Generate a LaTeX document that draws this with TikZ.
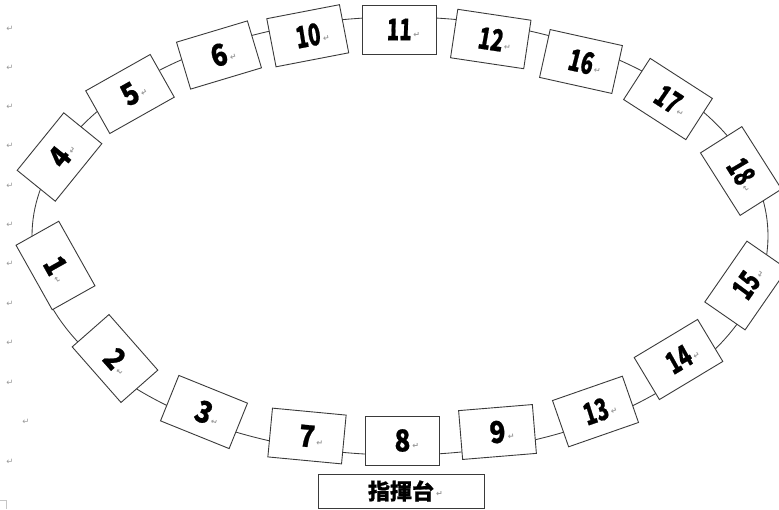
\documentclass[tikz,border=0pt]{standalone}
\usepackage{fontspec}
\newfontfamily\numfont[FakeStretch=0.87,FakeBold=0.8]{Noto Sans CJK JP}
\newfontfamily\numfontc[FakeStretch=0.68,FakeSlant=0.03,FakeBold=0.6]{Noto Sans CJK JP}
\newfontfamily\jpfont[FakeBold=0.8]{Noto Sans CJK JP}
\newfontfamily\markfont{DejaVu Sans}
\definecolor{markgray}{HTML}{9A9A9A}
\definecolor{linegray}{HTML}{3A3A3A}
\newcommand{\pmark}{\rlap{\hspace{2pt}\raisebox{2.5pt}{\markfont\fontsize{8}{8}\selectfont\color{markgray}↵}}}
\tikzset{
  seat/.style={draw=linegray, line width=0.9pt, fill=white, minimum width=74pt,
    minimum height=49pt, inner sep=0pt,
    font=\numfont\bfseries\fontsize{30}{30}\selectfont},
  seatc/.style={seat, font=\numfontc\bfseries\fontsize{30}{30}\selectfont},
  podium/.style={draw=linegray, line width=0.9pt, fill=white, minimum width=166pt,
    minimum height=34pt, inner sep=0pt,
    font=\jpfont\bfseries\fontsize{22}{22}\selectfont},
  pm/.style={text=markgray, font=\markfont\fontsize{8.5}{8.5}\selectfont, inner sep=0pt},
  ring/.style={draw=linegray, line width=0.85pt},
}
\begin{document}
\begin{tikzpicture}[x=1pt,y=-1pt]
\useasboundingbox (0,0) rectangle (779,509);
% ellipse
\draw[ring] (400,236) ellipse [x radius=368pt, y radius=219pt];
% seats
\node[seat,  rotate=-60.7] (s1)  at (55.5,265.5) {1\pmark};
\node[seat,  rotate=-48.7] (s2)  at (115,358.5)  {2\pmark};
\node[seat,  rotate=-22]   (s3)  at (204,412)    {3\pmark};
\node[seat,  rotate=51]    (s4)  at (59.5,157)   {4\pmark};
\node[seat,  rotate=29.4]  (s5)  at (130,94)     {5\pmark};
\node[seat,  rotate=16.7]  (s6)  at (219,55)     {6\pmark};
\node[seat,  rotate=-5.4]  (s7)  at (307,436)    {7\pmark};
\node[seat,  rotate=0]     (s8)  at (402.5,440.5){8\pmark};
\node[seat,  rotate=4.7]   (s9)  at (497.5,432)  {9\pmark};
\node[seatc, rotate=10.9]  (s10) at (307.75,35.75){10\pmark};
\node[seatc, rotate=0]     (s11) at (399,29.5)   {11\pmark};
\node[seatc, rotate=-8.5]  (s12) at (490.75,39)  {12\pmark};
\node[seatc, rotate=19.2]  (s13) at (595.5,411.5){13\pmark};
\node[seatc, rotate=31]    (s14) at (678.5,359.5){14\pmark};
\node[seatc, rotate=55.3]  (s15) at (746,285.5)  {15\pmark};
\node[seatc, rotate=-12.5] (s16) at (581,61.5)   {16\pmark};
\node[seatc, rotate=-32.8] (s17) at (668,99)     {17\pmark};
\node[seatc, rotate=-57.6] (s18) at (741,171)    {18\pmark};
% podium
\node[podium] (pod) at (401,491) {指揮台\pmark};
% paragraph marks in left margin
\node[pm] (m1)  at (10,29)  {↵};
\node[pm] (m2)  at (10,68)  {↵};
\node[pm] (m3)  at (10,107) {↵};
\node[pm] (m4)  at (10,146) {↵};
\node[pm] (m5)  at (10,186) {↵};
\node[pm] (m6)  at (10,225) {↵};
\node[pm] (m7)  at (10,264) {↵};
\node[pm] (m8)  at (10,304) {↵};
\node[pm] (m9)  at (10,343) {↵};
\node[pm] (m10) at (10,383) {↵};
\node[pm] (m11) at (26,422) {↵};
\node[pm] (m12) at (10,462) {↵};
% text boundary corner mark
\draw[gray!45, line width=0.7pt] (0,500.5) -- (6,500.5) -- (6,509);
\end{tikzpicture}
\end{document}
